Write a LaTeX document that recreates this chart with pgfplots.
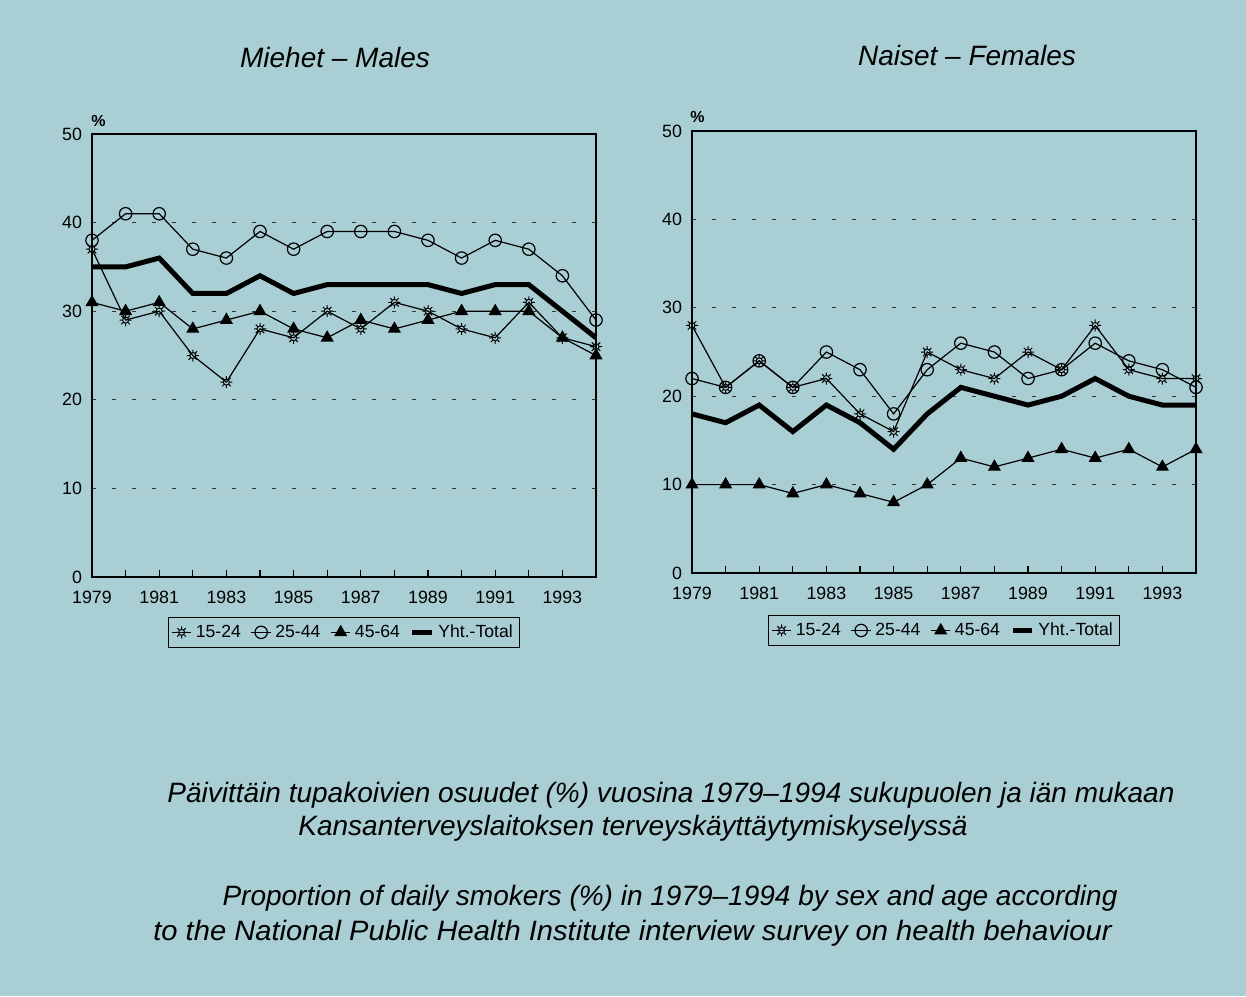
\documentclass[border=0pt]{standalone}
\usepackage{fontspec}
\setmainfont{Liberation Sans}
\usepackage{pgfplots}
\pgfplotsset{compat=1.18}
\definecolor{bg}{RGB}{169,206,211}
\pgfdeclareplotmark{sun}{%
  \pgfpathcircle{\pgfpointorigin}{0.5\pgfplotmarksize}%
  \foreach \a in {0,45,...,315}{%
    \pgfpathmoveto{\pgfpointpolar{\a}{0.5\pgfplotmarksize}}%
    \pgfpathlineto{\pgfpointpolar{\a}{\pgfplotmarksize}}%
  }%
  \pgfusepathqstroke
}
\pgfplotsset{
  panel/.style={
    scale only axis, width=252pt, height=221.5pt,
    xmin=1979, xmax=1994, ymin=0, ymax=50,
    xtick={1979,...,1994},
    xticklabels={1979,,1981,,1983,,1985,,1987,,1989,,1991,,1993,},
    ytick={0,10,...,50},
    ymajorgrids,
    grid style={black!80, dash pattern=on 2.2pt off 7.8pt, line width=0.55pt},
    major tick length=3.5pt, xtick align=inside, xtick pos=bottom,
    ytick style={draw=none}, xtick style={black, line width=0.6pt},
    tick label style={font=\fontsize{8.9}{10}\selectfont},
    xticklabel style={yshift=-3.5pt},
    yticklabel style={xshift=-1.5pt},
    /pgf/number format/assume math mode=true,
    axis line style={line width=0.8pt},
    legend columns=4,
    legend style={anchor=north, draw=black, fill=none, line width=0.6pt,
      font=\fontsize{8.8}{10}\selectfont, inner sep=1.5pt,
      /tikz/every even column/.append style={column sep=3pt},
      legend image code/.code={\draw[mark repeat=2,mark phase=2] plot coordinates {(0cm,0cm)(0.17cm,0cm)(0.34cm,0cm)};}},
  },
  s1/.style={black, line width=0.6pt, mark=sun, mark size=3pt, mark options={fill=none, line width=0.5pt}},
  s2/.style={black, line width=0.6pt, mark=o, mark size=3.1pt, mark options={fill=none, line width=0.6pt}},
  s3/.style={black, line width=0.6pt, mark=triangle*, mark size=3.2pt},
  s4/.style={black, line width=2.5pt, mark=none},
}
\begin{document}
\begin{tikzpicture}
\fill[bg] (0,0) rectangle (623pt,-498pt);
\begin{axis}[panel, at={(46pt,-288.5pt)}, anchor=south west,
  legend style={at={(0.5,-0.09)}}]
\addplot[s1] coordinates {(1979,37)(1980,29)(1981,30)(1982,25)(1983,22)(1984,28)(1985,27)(1986,30)(1987,28)(1988,31)(1989,30)(1990,28)(1991,27)(1992,31)(1993,27)(1994,26)};
\addlegendentry{15-24}
\addplot[s2] coordinates {(1979,38)(1980,41)(1981,41)(1982,37)(1983,36)(1984,39)(1985,37)(1986,39)(1987,39)(1988,39)(1989,38)(1990,36)(1991,38)(1992,37)(1993,34)(1994,29)};
\addlegendentry{25-44}
\addplot[s3] coordinates {(1979,31)(1980,30)(1981,31)(1982,28)(1983,29)(1984,30)(1985,28)(1986,27)(1987,29)(1988,28)(1989,29)(1990,30)(1991,30)(1992,30)(1993,27)(1994,25)};
\addlegendentry{45-64}
\addplot[s4] coordinates {(1979,35)(1980,35)(1981,36)(1982,32)(1983,32)(1984,34)(1985,32)(1986,33)(1987,33)(1988,33)(1989,33)(1990,32)(1991,33)(1992,33)(1993,30)(1994,27)};
\addlegendentry{Yht.-Total}
\end{axis}
\begin{axis}[panel, at={(346pt,-286.5pt)}, anchor=south west, height=221pt,
  legend style={at={(0.5,-0.095)}}]
\addplot[s1] coordinates {(1979,28)(1980,21)(1981,24)(1982,21)(1983,22)(1984,18)(1985,16)(1986,25)(1987,23)(1988,22)(1989,25)(1990,23)(1991,28)(1992,23)(1993,22)(1994,22)};
\addlegendentry{15-24}
\addplot[s2] coordinates {(1979,22)(1980,21)(1981,24)(1982,21)(1983,25)(1984,23)(1985,18)(1986,23)(1987,26)(1988,25)(1989,22)(1990,23)(1991,26)(1992,24)(1993,23)(1994,21)};
\addlegendentry{25-44}
\addplot[s3] coordinates {(1979,10)(1980,10)(1981,10)(1982,9)(1983,10)(1984,9)(1985,8)(1986,10)(1987,13)(1988,12)(1989,13)(1990,14)(1991,13)(1992,14)(1993,12)(1994,14)};
\addlegendentry{45-64}
\addplot[s4] coordinates {(1979,18)(1980,17)(1981,19)(1982,16)(1983,19)(1984,17)(1985,14)(1986,18)(1987,21)(1988,20)(1989,19)(1990,20)(1991,22)(1992,20)(1993,19)(1994,19)};
\addlegendentry{Yht.-Total}
\end{axis}
\node[font=\bfseries\fontsize{8}{9}\selectfont] at (49.25pt,-60.5pt) {\%};
\node[font=\bfseries\fontsize{8}{9}\selectfont] at (348.75pt,-58.25pt) {\%};
\node[font=\itshape\fontsize{14}{16}\selectfont] at (167.5pt,-28.5pt) {Miehet – Males};
\node[font=\itshape\fontsize{14}{16}\selectfont] at (483.5pt,-27.5pt) {Naiset – Females};
\node[font=\itshape\fontsize{14}{16}\selectfont] at (335.5pt,-397.5pt) {Päivittäin tupakoivien osuudet (\%) vuosina 1979–1994 sukupuolen ja iän mukaan};
\node[font=\itshape\fontsize{14}{16}\selectfont] at (316.5pt,-414pt) {Kansanterveyslaitoksen terveyskäyttäytymiskyselyssä};
\node[font=\itshape\fontsize{14}{16}\selectfont] at (335pt,-449pt) {Proportion of daily smokers (\%) in 1979–1994 by sex and age according};
\node[font=\itshape\fontsize{14}{16}\selectfont] at (316.25pt,-466.5pt) {\scalebox{1.04}[1]{to the National Public Health Institute interview survey on health behaviour}};
\end{tikzpicture}
\end{document}
